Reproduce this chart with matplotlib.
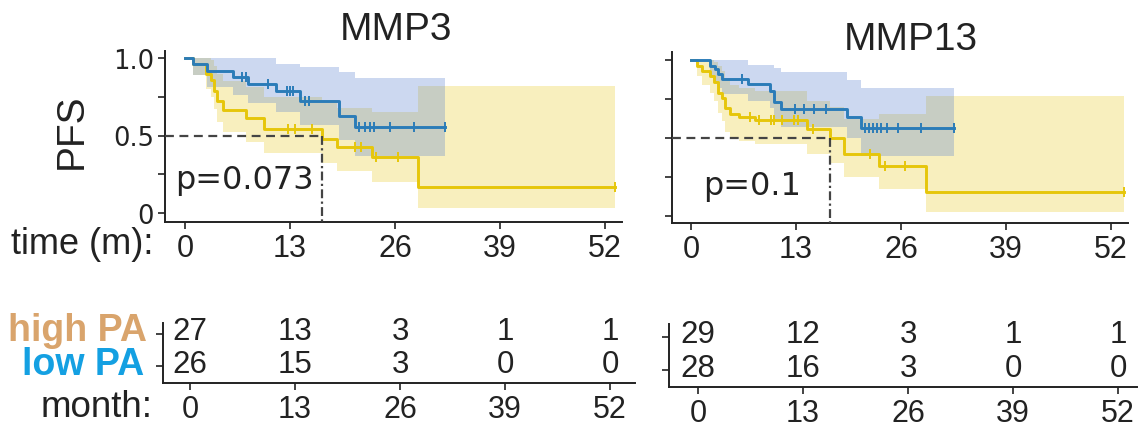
import numpy as np
import matplotlib
matplotlib.use("Agg")
import matplotlib.pyplot as plt
from matplotlib import font_manager

# fonts: narrow face for titles / numbers if it is there
names = {f.name for f in font_manager.fontManager.ttflist}
NARROW = 'Liberation Sans Narrow' if 'Liberation Sans Narrow' in names else 'Liberation Sans'
ARIAL = 'Liberation Sans'

# ---------------- data ----------------
months = [0, 13, 26, 39, 52]

# MMP3, low PA (blue)
low3_t = [0, 1.0, 2.7, 6.0, 7.8, 11.3, 14.2, 19.1, 21.0]
low3_s = [1.0, 0.962, 0.915, 0.875, 0.835, 0.785, 0.72, 0.628, 0.557]
low3_hi = [1, 1, 1, 1, 1, 0.96, 0.94, 0.91, 0.87]
low3_lo = [1, 0.89, 0.81, 0.76, 0.71, 0.65, 0.57, 0.47, 0.37]
low3_end = 32.2
low3_cens = [7.1, 7.5, 10.3, 12.6, 13.0, 13.4, 14.9, 15.3, 21.6, 22.3, 22.9, 23.4, 25.4, 28.3, 32.2]

# MMP3, high PA (yellow)
high3_t = [0, 1.0, 2.6, 3.2, 3.6, 4.0, 4.7, 7.6, 9.8, 17.0, 18.8, 23.1, 28.9]
high3_s = [1.0, 0.96, 0.90, 0.86, 0.79, 0.72, 0.665, 0.615, 0.54, 0.48, 0.425, 0.36, 0.17]
high3_hi = [1, 1, 1, 0.99, 0.95, 0.90, 0.85, 0.81, 0.75, 0.72, 0.68, 0.65, 0.82]
high3_lo = [1, 0.89, 0.80, 0.75, 0.67, 0.59, 0.52, 0.46, 0.39, 0.32, 0.27, 0.20, 0.03]
high3_end = 53.2
high3_cens = [12.7, 13.6, 15.7, 21.1, 21.8, 23.7, 26.4, 53.2]

# MMP13, low PA (blue)
low13_t = [0, 2.4, 3.0, 3.4, 3.8, 7.0, 9.8, 10.3, 11.2, 19.3, 21.1]
low13_s = [1.0, 0.963, 0.942, 0.91, 0.878, 0.846, 0.803, 0.728, 0.686, 0.633, 0.562]
low13_hi = [1, 1, 1, 1, 1, 0.97, 0.97, 0.95, 0.92, 0.87, 0.82]
low13_lo = [1, 0.89, 0.86, 0.82, 0.78, 0.74, 0.69, 0.62, 0.57, 0.50, 0.383]
low13_end = 32.6
low13_cens = [6.3, 12.9, 14.0, 15.2, 16.7, 21.6, 22.0, 22.5, 23.0, 23.5, 24.3, 25.6, 28.5, 32.6]

# MMP13, high PA (yellow)
high13_t = [0, 0.7, 1.3, 2.35, 2.8, 3.4, 3.8, 4.2, 4.8, 5.9, 7.9, 14.3, 17.2, 18.9, 23.3, 29.1]
high13_s = [1.0, 0.963, 0.93, 0.895, 0.86, 0.79, 0.755, 0.69, 0.655, 0.635, 0.615, 0.56, 0.50, 0.40, 0.323, 0.152]
high13_hi = [1, 1, 1, 1, 0.99, 0.96, 0.93, 0.88, 0.84, 0.82, 0.80, 0.74, 0.70, 0.62, 0.655, 0.77]
high13_lo = [1, 0.90, 0.84, 0.79, 0.74, 0.66, 0.61, 0.54, 0.50, 0.48, 0.46, 0.40, 0.34, 0.25, 0.17, 0.024]
high13_end = 53.6
high13_cens = [7.3, 8.4, 9.9, 10.3, 11.3, 12.8, 13.3, 15.1, 22.2, 24.0, 26.5, 53.6]

# numbers at risk
mmp3_high_risk = [27, 13, 3, 1, 1]
mmp3_low_risk = [26, 15, 3, 0, 0]
mmp13_high_risk = [29, 12, 3, 1, 1]
mmp13_low_risk = [28, 16, 3, 0, 0]

p_values = ['p=0.073', 'p=0.1']
titles = ['MMP3', 'MMP13']

# ---------------- style ----------------
BLUE = '#2b7cb8'
YELLOW = '#e6c60a'
BLUE_FILL = '#5880d0'
YELLOW_FILL = '#e8cc28'
HIGH_LBL = '#d9a46c'
LOW_LBL = '#14a0e2'
INK = '#222222'

W, H = 1138, 427
fig = plt.figure(figsize=(W / 100, H / 100), dpi=100)


def rect(l, r, t, b):
    return [l / W, 1 - b / H, (r - l) / W, (b - t) / H]


def ext(t, v, end):
    # step arrays extended to the last follow-up time
    return np.append(t, end), np.append(v, v[-1])


def km(ax, t, s, lo, hi, end, cens, line_c, fill_c, zf):
    tt, ss = ext(t, s, end)
    _, ll = ext(t, lo, end)
    _, hh = ext(t, hi, end)
    ax.fill_between(tt, ll, hh, step='post', color=fill_c, alpha=0.3, lw=0, zorder=zf)
    ax.step(tt, ss, where='post', color=line_c, lw=2.1, zorder=5)
    cy = [ss[np.searchsorted(tt, c, side='right') - 1] for c in cens]
    ax.plot(cens, cy, ls='none', marker='|', ms=7, mew=1.4, color=line_c, zorder=6)


def style_axes(ax):
    for sp in ['top', 'right']:
        ax.spines[sp].set_visible(False)
    for sp in ['left', 'bottom']:
        ax.spines[sp].set_linewidth(1.4)
        ax.spines[sp].set_color(INK)
    ax.tick_params(direction='out', length=5, width=1.2, color=INK)


panels = [
    dict(km=rect(165, 622, 52, 223), x0=185, y0=214, y1=59, right=622, top=52, bottom=223, left=165,
         tab=rect(163, 635, 324, 384), tx0=190, tleft=163, tright=635, trow=(335, 367), ttop=324, tbot=384,
         low=(low3_t, low3_s, low3_lo, low3_hi, low3_end, low3_cens),
         high=(high3_t, high3_s, high3_lo, high3_hi, high3_end, high3_cens),
         risk=(mmp3_high_risk, mmp3_low_risk), title_xy=(396, 40), p_xy=(175, 180)),
    dict(km=rect(672, 1128, 53, 224), x0=691, y0=217, y1=61, right=1128, top=53, bottom=224, left=672,
         tab=rect(669, 1137, 325, 388), tx0=698, tleft=669, tright=1137, trow=(338, 371), ttop=325, tbot=388,
         low=(low13_t, low13_s, low13_lo, low13_hi, low13_end, low13_cens),
         high=(high13_t, high13_s, high13_lo, high13_hi, high13_end, high13_cens),
         risk=(mmp13_high_risk, mmp13_low_risk), title_xy=(911, 50), p_xy=(703, 187)),
]

PXM = 8.077  # pixels per month

for i, P in enumerate(panels):
    ax = fig.add_axes(P['km'])
    ppu = P['y0'] - P['y1']
    ax.set_xlim((P['left'] - P['x0']) / PXM, (P['right'] - P['x0']) / PXM)
    ax.set_ylim((P['y0'] - P['bottom']) / ppu, (P['y0'] - P['top']) / ppu)

    km(ax, *P['high'], YELLOW, YELLOW_FILL, 1)
    km(ax, *P['low'], BLUE, BLUE_FILL, 2)

    # median of the high PA curve
    ht, hs = np.array(P['high'][0]), np.array(P['high'][1])
    med = ht[np.argmax(hs <= 0.5)]
    xl, yl = ax.get_xlim(), ax.get_ylim()
    ax.plot([xl[0], med], [0.5, 0.5], ls=(0, (4, 2.5)), color='#444444', lw=1.6, zorder=7)
    ax.plot([med, med], [0.5, yl[0]], ls=(0, (4, 1.5, 1, 1.5)), color='#444444', lw=1.6, zorder=7)

    style_axes(ax)
    ax.set_xticks(months)
    ax.set_xticklabels([str(m) for m in months], fontsize=22, family=NARROW, color=INK)
    ax.tick_params(axis='x', pad=3)
    ax.set_yticks([0, 0.25, 0.5, 0.75, 1.0])
    if i == 0:
        ax.set_yticklabels(['0', '', '0.5', '', '1.0'], fontsize=18.5, family='DejaVu Sans', color=INK)
        ax.tick_params(axis='y', pad=3)
    else:
        ax.set_yticklabels([])

    px, py = P['p_xy']
    fig.text(px / W, 1 - py / H, p_values[i], fontsize=23, family='DejaVu Sans',
             ha='left', va='center', color=INK)
    tx, ty = P['title_xy']
    fig.text(tx / W, 1 - ty / H, titles[i], fontsize=28, family=NARROW,
             ha='center', va='baseline', color=INK)

    # numbers-at-risk table
    tb = fig.add_axes(P['tab'])
    rpu = P['trow'][1] - P['trow'][0]
    tb.set_xlim((P['tleft'] - P['tx0']) / PXM, (P['tright'] - P['tx0']) / PXM)
    tb.set_ylim(-(P['tbot'] - P['trow'][1]) / rpu, 1 + (P['trow'][0] - P['ttop']) / rpu)
    style_axes(tb)
    tb.set_xticks(months)
    tb.set_xticklabels([str(m) for m in months], fontsize=22, family=NARROW, color=INK)
    tb.tick_params(axis='x', pad=3)
    tb.set_yticks([0, 1])
    tb.set_yticklabels([])
    hr, lr = P['risk']
    for m, a, b in zip(months, hr, lr):
        tb.text(m, 1.1, str(a), ha='center', va='center', fontsize=22.5, family=NARROW, color=INK)
        tb.text(m, 0.05, str(b), ha='center', va='center', fontsize=22.5, family=NARROW, color=INK)

fig.text(72 / W, 1 - 131 / H, 'PFS', rotation=90, fontsize=28, family=NARROW,
         ha='center', va='center', color=INK)
fig.text(153 / W, 1 - 245 / H, 'time (m):', fontsize=26, family=ARIAL, ha='right', va='center', color=INK)
fig.text(153 / W, 1 - 408 / H, 'month:', fontsize=26.5, family=ARIAL, ha='right', va='center', color=INK)
fig.text(147 / W, 1 - 331 / H, 'high PA', fontsize=27, family=ARIAL, weight='bold',
         ha='right', va='center', color=HIGH_LBL)
fig.text(144 / W, 1 - 365 / H, 'low PA', fontsize=27, family=ARIAL, weight='bold',
         ha='right', va='center', color=LOW_LBL)

fig.savefig('out.png', dpi=100)
